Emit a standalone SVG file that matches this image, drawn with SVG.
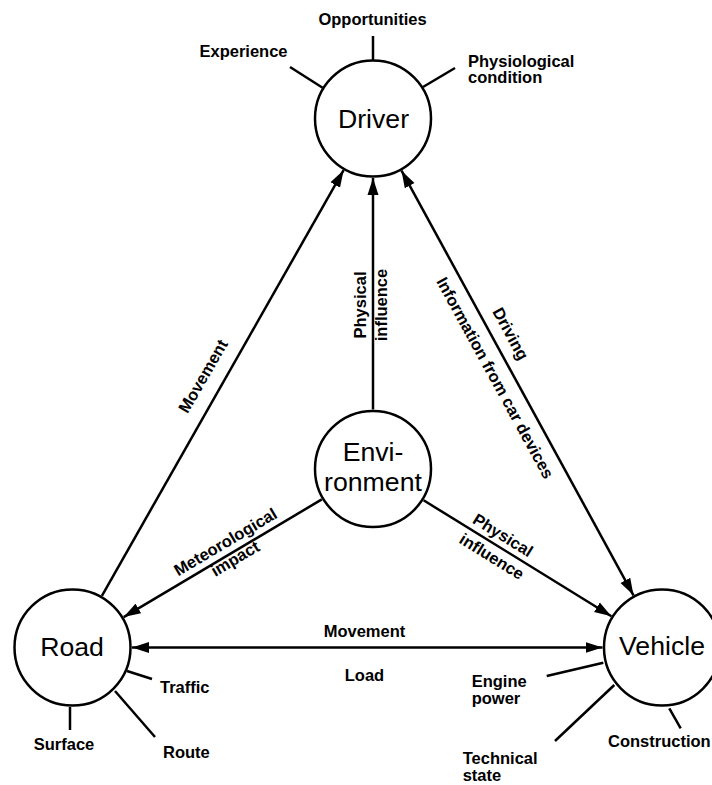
<svg xmlns="http://www.w3.org/2000/svg" width="712" height="785" viewBox="0 0 712 785">
<defs>
<style>
.node circle{fill:#fff;stroke:#000;stroke-width:2.5}
.spoke{stroke:#000;stroke-width:2.5;fill:none}
.conn line{stroke:#000;stroke-width:2.5;fill:none}
.nl{font-family:"Liberation Sans",Arial,sans-serif;font-size:26.67px;fill:#000;text-anchor:middle}
.sl{font-family:"Liberation Sans",Arial,sans-serif;font-size:16.5px;font-weight:bold;fill:#000}
.el{font-family:"Liberation Sans",Arial,sans-serif;font-size:16.5px;font-weight:bold;fill:#000;text-anchor:middle}
.mid{text-anchor:middle}
</style>
<marker id="ah" markerUnits="userSpaceOnUse" markerWidth="18" markerHeight="12" refX="17" refY="5.5" orient="auto-start-reverse" viewBox="0 0 18 11">
<path d="M0,0 L17,5.5 L0,11 Z" fill="#000"/>
</marker>
</defs>
<rect width="712" height="785" fill="#fff"/>

<g id="connectors" class="conn">
<line x1="101.9" y1="595.8" x2="343.6" y2="170.2" marker-end="url(#ah)"/>
<line x1="373" y1="409.5" x2="373" y2="178" marker-end="url(#ah)"/>
<line x1="401.5" y1="170.7" x2="633.5" y2="595.3" marker-start="url(#ah)" marker-end="url(#ah)"/>
<line x1="321.8" y1="499.4" x2="123.7" y2="617.1" marker-end="url(#ah)"/>
<line x1="423.6" y1="500.3" x2="611.4" y2="616.2" marker-end="url(#ah)"/>
<line x1="132" y1="647.5" x2="602.5" y2="647.5" marker-start="url(#ah)" marker-end="url(#ah)"/>
</g>

<g id="edge-labels">
<text class="el" transform="translate(208,379) rotate(-60)">Movement</text>
<text class="el" transform="translate(366,305) rotate(-90)">Physical</text>
<text class="el" transform="translate(387,305) rotate(-90)">influence</text>
<text class="el" transform="translate(505.6,336.4) rotate(61.35)">Driving</text>
<text class="el" transform="translate(490.2,380.6) rotate(61.35)">Information from car devices</text>
<text class="el" transform="translate(228.3,546.8) rotate(-30.7)">Meteorological</text>
<text class="el" transform="translate(238,563.4) rotate(-30.7)">impact</text>
<text class="el" transform="translate(499.9,540) rotate(31.7)">Physical</text>
<text class="el" transform="translate(488.8,561.4) rotate(31.7)">influence</text>
<text class="el" x="364.5" y="637">Movement</text>
<text class="el" x="364.5" y="681">Load</text>
</g>

<g id="driver" class="node">
<circle cx="373" cy="118.5" r="58"/>
<text class="nl" x="373.5" y="128">Driver</text>
<line class="spoke" x1="373" y1="36" x2="373" y2="60"/>
<line class="spoke" x1="290" y1="67" x2="323" y2="88"/>
<line class="spoke" x1="423" y1="87" x2="455" y2="68"/>
<text class="sl mid" x="372.5" y="25">Opportunities</text>
<text class="sl mid" x="243.5" y="57">Experience</text>
<text class="sl" x="468" y="66.5">Physiological</text>
<text class="sl" x="468" y="83">condition</text>
</g>

<g id="environment" class="node">
<circle cx="373" cy="469" r="58"/>
<text class="nl" x="373" y="461">Envi-</text>
<text class="nl" x="373" y="491">ronment</text>
</g>

<g id="road" class="node">
<circle cx="72.5" cy="647.5" r="58"/>
<text class="nl" x="72" y="656">Road</text>
<line class="spoke" x1="127" y1="671" x2="152" y2="679"/>
<line class="spoke" x1="115" y1="691" x2="155" y2="737"/>
<line class="spoke" x1="70" y1="707" x2="70" y2="730"/>
<text class="sl" x="160" y="693">Traffic</text>
<text class="sl" x="163" y="758">Route</text>
<text class="sl mid" x="64" y="750">Surface</text>
</g>

<g id="vehicle" class="node">
<circle cx="662" cy="647.5" r="58"/>
<text class="nl" x="662" y="655">Vehicle</text>
<line class="spoke" x1="546.7" y1="676" x2="603.3" y2="662.7"/>
<line class="spoke" x1="555" y1="741" x2="614.3" y2="685"/>
<line class="spoke" x1="669.3" y1="708.3" x2="680.7" y2="728.3"/>
<text class="sl" x="471.7" y="686.7">Engine</text>
<text class="sl" x="471.7" y="703.5">power</text>
<text class="sl" x="462.7" y="764">Technical</text>
<text class="sl" x="462.7" y="781">state</text>
<text class="sl" x="608" y="746.7">Construction</text>
</g>
</svg>
